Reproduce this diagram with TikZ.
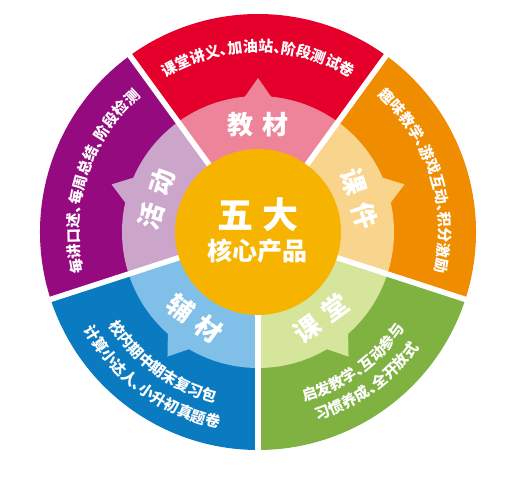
\documentclass[tikz,border=0pt]{standalone}
\usepackage{fontspec}
\newfontfamily\cjk{Noto Sans CJK SC}
\newfontfamily\cjkhalt{Noto Sans CJK SC}[RawFeature=+halt]
\usetikzlibrary{decorations.text}
\definecolor{jcred}{HTML}{E5002B}
\definecolor{jcpink}{HTML}{EE8499}
\definecolor{kjorange}{HTML}{F08C00}
\definecolor{kjlight}{HTML}{F9D48D}
\definecolor{ktgreen}{HTML}{80B242}
\definecolor{ktlight}{HTML}{D5E59B}
\definecolor{fcblue}{HTML}{0B7BC1}
\definecolor{fclight}{HTML}{80C0E8}
\definecolor{hdpurple}{HTML}{960A80}
\definecolor{hdlight}{HTML}{CCA5CB}
\definecolor{hubgold}{HTML}{F6B400}
\newcommand\arcfont{\cjkhalt\bfseries\fontsize{15}{15}\selectfont}

\begin{document}
\begin{tikzpicture}[
      wedge/.style={fill=#1},
      spoke/.style={draw=white, line width=5.5pt},
      ring label/.style={
         text=white,
         inner sep=0pt,
         font=\cjk\bfseries\fontsize{26}{26}\selectfont
      },
      hub label/.style={text=white, inner sep=0pt},
      arc text/.style={
         decorate,
         decoration={text along path, text align=center,
            text color=white, text={|\arcfont|#1}}
      },
    ]
    \useasboundingbox (-258pt,-262pt) rectangle (253pt,232pt);
    % five sectors: centre angle / outer / inner / label / rotation
    \foreach \a/\outc/\inc/\lab/\rot in {
        90/jcred/jcpink/教\hspace{0.35em}材/0,
        18/kjorange/kjlight/课\hspace{0.35em}件/-72,
        306/ktgreen/ktlight/课\hspace{0.35em}堂/36,
        234/fcblue/fclight/辅\hspace{0.35em}材/-36,
        162/hdpurple/hdlight/活\hspace{0.35em}动/72} {
      \fill[wedge=\outc] (0,0) -- (\a-36:218pt)
         arc[start angle=\a-36, end angle=\a+36, radius=218pt] -- cycle;
      \fill[wedge=\inc] (0,0) -- (\a-36:136pt)
         arc[start angle=\a-36, end angle=\a+36, radius=136pt] -- cycle;
      \fill[wedge=\inc] (\a-7:132pt) -- (\a:154pt) -- (\a+7:132pt) -- cycle;
      \node (lab\a) [ring label, rotate=\rot] at (\a:107pt) {\lab};
    }
    \foreach \b in {54,126,198,270,342}
      \draw[spoke] (0,0) -- (\b:225pt);
    % outer texts
    \path[arc text={课堂讲义、加油站、阶段测试卷}]
       (126:180pt) arc[start angle=126, end angle=54, radius=180pt];
    \path[arc text={趣味教学、游戏互动、积分激励}]
       (54:181pt) arc[start angle=54, end angle=-18, radius=181pt];
    \path[arc text={每讲口述、每周总结、阶段检测}]
       (198:179pt) arc[start angle=198, end angle=126, radius=179pt];
    \path[arc text={校内期中期末复习包}]
       (198:176pt) arc[start angle=198, end angle=270, radius=176pt];
    \path[arc text={计算小达人、小升初真题卷}]
       (198:200pt) arc[start angle=198, end angle=270, radius=200pt];
    \path[arc text={启发教学、互动参与}]
       (270:176pt) arc[start angle=270, end angle=342, radius=176pt];
    \path[arc text={习惯养成、全开放式}]
       (270:198pt) arc[start angle=270, end angle=342, radius=198pt];
    % hub
    \fill[hubgold] (0,0) circle[radius=83pt];
    \node (hubtop) [hub label, font=\cjk\bfseries\fontsize{36}{36}\selectfont]
       at (0,17pt) {五\hspace{0.25em}大};
    \node (hubbot) [hub label, font=\cjk\bfseries\fontsize{25}{25}\selectfont]
       at (0,-19pt) {核心产品};
\end{tikzpicture}
\end{document}
